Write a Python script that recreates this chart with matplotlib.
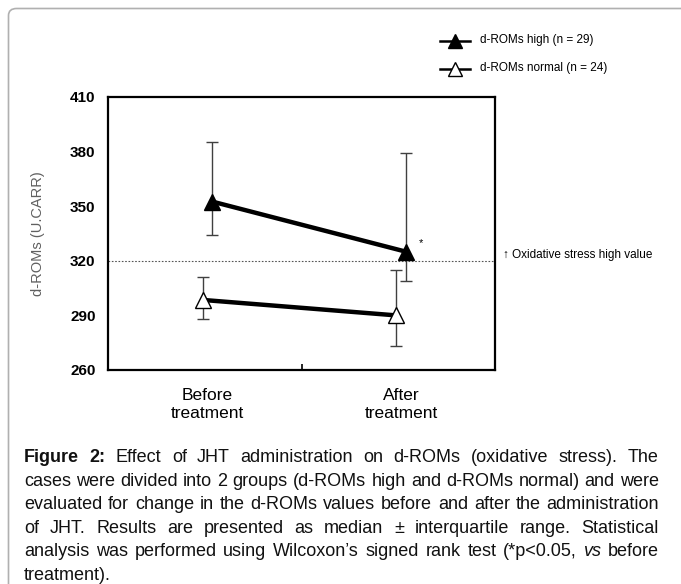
import matplotlib
matplotlib.use("Agg")
import matplotlib.pyplot as plt
from matplotlib.patches import FancyBboxPatch
from matplotlib.lines import Line2D

# ---------------- data ----------------
categories = ["Before\ntreatment", "After\ntreatment"]
high_median = [352.5, 325.0]
high_q1 = [334.0, 309.0]
high_q3 = [385.5, 379.5]
normal_median = [298.5, 290.0]
normal_q1 = [288.0, 273.0]
normal_q3 = [311.0, 315.0]
threshold = 320
yticks = [260, 290, 320, 350, 380, 410]
legend_labels = ["d-ROMs high (n = 29)", "d-ROMs normal (n = 24)"]
threshold_label = "\u2191 Oxidative stress high value"
ylabel = "d-ROMs (U.CARR)"

caption_lines = [
    [("Figure", "bold", "normal"), ("2:", "bold", "normal"), ("Effect", "normal", "normal"),
     ("of", "normal", "normal"), ("JHT", "normal", "normal"), ("administration", "normal", "normal"),
     ("on", "normal", "normal"), ("d-ROMs", "normal", "normal"), ("(oxidative", "normal", "normal"),
     ("stress).", "normal", "normal"), ("The", "normal", "normal")],
    "cases were divided into 2 groups (d-ROMs high and d-ROMs normal) and were",
    "evaluated for change in the d-ROMs values before and after the administration",
    "of JHT. Results are presented as median \u00b1 interquartile range. Statistical",
    [("analysis", "normal", "normal"), ("was", "normal", "normal"), ("performed", "normal", "normal"),
     ("using", "normal", "normal"), ("Wilcoxon\u2019s", "normal", "normal"), ("signed", "normal", "normal"),
     ("rank", "normal", "normal"), ("test", "normal", "normal"), ("(*p<0.05,", "normal", "normal"),
     ("vs", "normal", "italic"), ("before", "normal", "normal")],
    "treatment).",
]

# ---------------- layout ----------------
W, H = 681, 584
FONT = ["Liberation Sans", "DejaVu Sans"]
plt.rcParams["font.family"] = FONT
CAP_FONT = FONT

fig = plt.figure(figsize=(W / 100, H / 100), dpi=100)
fx = lambda px: px / W
fy = lambda py: 1 - py / H

# frame
frame = FancyBboxPatch((fx(8.5), fy(620)), fx(720), fy(8.5) - fy(620),
                       boxstyle="round,pad=0,rounding_size=0.012",
                       transform=fig.transFigure, fill=False,
                       edgecolor="#b0b0b0", linewidth=1.2)
fig.patches.append(frame)

ax_l, ax_r, ax_t, ax_b = 108, 495, 97, 370
ax = fig.add_axes([fx(ax_l), fy(ax_b), fx(ax_r - ax_l), (ax_b - ax_t) / H])

xpos = list(range(len(categories)))
off_high, off_norm = 0.04, -0.01
xh = [x + off_high for x in xpos]
xn = [x + off_norm for x in xpos]

def errs(med, q1, q3):
    return [[m - a for m, a in zip(med, q1)], [b - m for m, b in zip(med, q3)]]

ax.errorbar(xh, high_median, yerr=errs(high_median, high_q1, high_q3), fmt="none",
            ecolor="#404040", elinewidth=1.0, capsize=4, capthick=1.0, zorder=2)
ax.errorbar(xn, normal_median, yerr=errs(normal_median, normal_q1, normal_q3), fmt="none",
            ecolor="#404040", elinewidth=1.0, capsize=4, capthick=1.0, zorder=2)
ax.plot(xh, high_median, color="black", lw=3.2, zorder=3, solid_capstyle="butt")
ax.plot(xn, normal_median, color="black", lw=3.2, zorder=3, solid_capstyle="butt")
ax.plot(xh, high_median, ls="none", marker="^", ms=11, mfc="black", mec="black", mew=1.0, zorder=4)
ax.plot(xn, normal_median, ls="none", marker="^", ms=11, mfc="white", mec="black", mew=1.0, zorder=4)

ax.axhline(threshold, color="#555555", lw=0.8, ls=(0, (1.5, 1.5)), zorder=1)

ax.set_xlim(-0.5, 1.5)
ax.set_ylim(260, 410)
ax.set_yticks(yticks)
ax.set_yticklabels([str(t) for t in yticks], fontsize=11, fontweight="bold")
ax.tick_params(axis="y", length=0, pad=9)
ax.set_xticks([0.5])
ax.set_xticklabels([""])
ax.tick_params(axis="x", direction="in", length=4, width=1.2)
for s in ax.spines.values():
    s.set_linewidth(1.6)

for x, lab in zip(xpos, categories):
    ax.text(x + 0.015, -0.065, lab, transform=ax.get_xaxis_transform(), ha="center", va="top",
            fontsize=12.5, linespacing=1.3)

ax.set_ylabel(ylabel, fontsize=10.5, color="#606060")
ax.yaxis.set_label_coords(fx(45 - ax_l) / fx(ax_r - ax_l), 0.5)

# asterisk
ax.annotate("*", xy=(xh[1], high_median[1]), xytext=(11, 6), textcoords="offset points",
            fontsize=8, ha="center", va="center")

# threshold label
fig.text(fx(503), fy(255), threshold_label, fontsize=8.5, va="center", ha="left")

# legend (manual)
for i, (lab, fc) in enumerate(zip(legend_labels, ["black", "white"])):
    yy = fy(40.5 + 28 * i)
    fig.add_artist(Line2D([fx(440), fx(470)], [yy, yy], transform=fig.transFigure,
                          color="black", lw=1.8))
    fig.add_artist(Line2D([fx(455)], [yy], transform=fig.transFigure, marker="^",
                          ms=9.5, mfc=fc, mec="black", mew=1.0, ls="none"))
    fig.text(fx(480), yy, lab, fontsize=8.5, va="center", ha="left")

# ---------------- caption (justified) ----------------
renderer = fig.canvas.get_renderer()
cap_left, cap_right = 24, 659
cap_w = cap_right - cap_left

def to_words(line):
    if isinstance(line, str):
        return [(w, "normal", "normal") for w in line.split()]
    return line

lines = [to_words(l) for l in caption_lines]

def measure(words, fs):
    ws = []
    for w, wt, st in words:
        t = fig.text(0, 0, w, fontsize=fs, fontweight=wt, fontstyle=st, family=CAP_FONT)
        ws.append(t.get_window_extent(renderer).width)
        t.remove()
    t = fig.text(0, 0, "a b", fontsize=fs, family=CAP_FONT)
    t2 = fig.text(0, 0, "ab", fontsize=fs, family=CAP_FONT)
    sp = t.get_window_extent(renderer).width - t2.get_window_extent(renderer).width
    t.remove(); t2.remove()
    return ws, sp

base = 12.0
maxnat = 0
for l in lines[1:3]:
    ws, sp = measure(l, base)
    maxnat = max(maxnat, sum(ws) + sp * (len(ws) - 1))
cap_fs = base * (cap_w - 2) / maxnat

for i, words in enumerate(lines):
    ws, sp = measure(words, cap_fs)
    base_y = 462 + 23.6 * i
    last = i == len(lines) - 1
    gap = sp if last else (cap_w - sum(ws)) / (len(ws) - 1)
    x = cap_left
    for (w, wt, st), wd in zip(words, ws):
        fig.text(fx(x), fy(base_y), w, fontsize=cap_fs, fontweight=wt, fontstyle=st,
                 family=CAP_FONT, va="baseline", ha="left", color="#111111")
        x += wd + gap

fig.savefig("out.png", dpi=100)
